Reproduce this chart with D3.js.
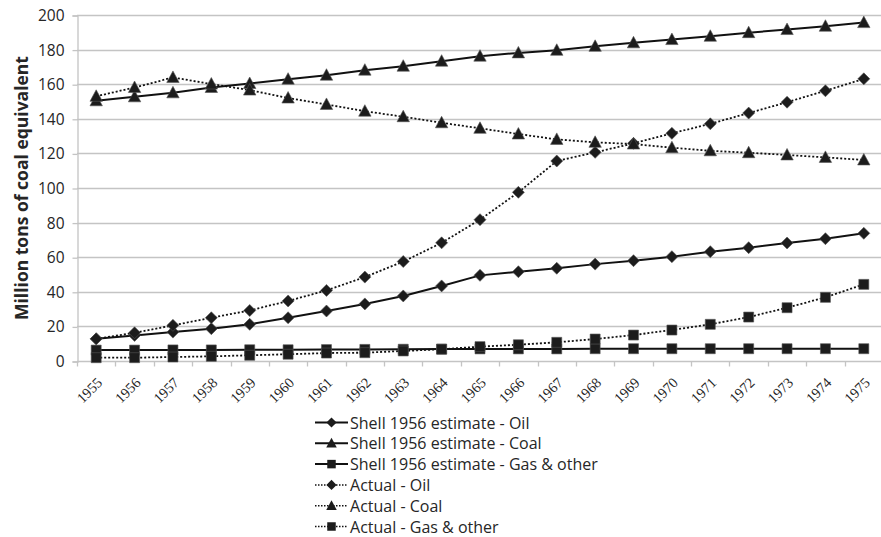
<!DOCTYPE html>
<html>
<head>
<meta charset="utf-8">
<script src="https://cdn.jsdelivr.net/npm/d3@7"></script>
<style>
  html, body { margin: 0; padding: 0; background: #fff; }
  svg { display: block; }
</style>
</head>
<body>
<svg id="chart" width="881" height="537"></svg>
<script>
// ---- Data ----
const years = ["1955","1956","1957","1958","1959","1960","1961","1962","1963","1964","1965",
               "1966","1967","1968","1969","1970","1971","1972","1973","1974","1975"];
const yTicks = [0, 20, 40, 60, 80, 100, 120, 140, 160, 180, 200];

const shellOil  = [12.8, 14.8, 16.7, 18.7, 21.2, 25.0, 28.9, 33.0, 37.6, 43.4, 49.5,
                   51.6, 53.6, 56.0, 58.0, 60.3, 63.2, 65.5, 68.2, 70.7, 73.8];
const shellCoal = [150.4, 152.7, 155.0, 158.1, 160.4, 162.9, 165.2, 168.1, 170.4, 173.3, 176.2,
                   178.1, 179.6, 181.9, 183.9, 185.8, 187.7, 189.8, 191.6, 193.5, 195.6];
const shellGas  = [6.3, 6.3, 6.4, 6.4, 6.5, 6.5, 6.6, 6.7, 6.8, 6.9, 7.0,
                   7.0, 7.0, 7.1, 7.1, 7.1, 7.1, 7.1, 7.1, 7.1, 7.1];
const actualOil  = [12.8, 16.3, 20.6, 25.0, 29.2, 34.7, 40.8, 48.5, 57.5, 68.3, 81.7,
                    97.5, 115.6, 120.6, 125.8, 131.6, 137.1, 143.3, 149.6, 156.2, 163.1];
const actualCoal = [153.0, 158.1, 163.9, 160.1, 156.6, 152.0, 148.3, 144.4, 141.2, 137.7, 134.5,
                    131.2, 128.1, 126.4, 125.4, 123.3, 121.5, 120.4, 119.1, 117.7, 116.2];
const actualGas  = [1.9, 1.9, 2.3, 2.7, 3.3, 3.9, 4.6, 4.8, 5.8, 6.8, 8.3,
                    9.4, 10.8, 12.7, 15.0, 17.9, 21.2, 25.4, 30.8, 36.8, 44.3];

const seriesNames = ["Shell 1956 estimate - Oil", "Shell 1956 estimate - Coal", "Shell 1956 estimate - Gas & other",
                     "Actual - Oil", "Actual - Coal", "Actual - Gas & other"];
const seriesValues = [shellOil, shellCoal, shellGas, actualOil, actualCoal, actualGas];
const seriesMarkers = ["diamond", "triangle", "square", "diamond", "triangle", "square"];
const seriesDotted = [false, false, false, true, true, true];
const yTitle = "Million tons of coal equivalent";

// ---- Layout ----
const svg = d3.select("#chart");
const mLeft = 77, mRight = 883, mTop = 15, mBottom = 361;

const x = d3.scaleBand().domain(years).range([mLeft, mRight]).padding(0);
const y = d3.scaleLinear().domain([0, 200]).range([mBottom, mTop]);
const cx = d => x(d) + x.bandwidth() / 2;

const gridColor = "#c4c4c4";
const textColor = "#262626";
const markColor = "#1c1c1c";

// gridlines
svg.append("g")
  .selectAll("line").data(yTicks.filter(t => t > 0)).join("line")
  .attr("x1", mLeft).attr("x2", 881)
  .attr("y1", d => Math.round(y(d)) + 0.5).attr("y2", d => Math.round(y(d)) + 0.5)
  .attr("stroke", gridColor).attr("stroke-width", 1.3);

// y axis
const yAxis = svg.append("g").attr("transform", `translate(${mLeft + 0.5},0.5)`)
  .call(d3.axisLeft(y).tickValues(yTicks).tickSize(5).tickPadding(8));
yAxis.select(".domain").attr("stroke", gridColor).attr("stroke-width", 1.3);
yAxis.selectAll(".tick line").attr("stroke", gridColor).attr("stroke-width", 1.3);
yAxis.selectAll(".tick text")
  .attr("font-family", "'Open Sans', sans-serif").attr("font-size", 15.5).attr("fill", textColor);

// x axis: ticks between categories
const xAxisG = svg.append("g").attr("transform", `translate(0,${mBottom + 0.5})`);
xAxisG.append("line").attr("x1", mLeft).attr("x2", 881).attr("y1", 0).attr("y2", 0)
  .attr("stroke", gridColor).attr("stroke-width", 1.3);
xAxisG.selectAll("line.tk").data(years).join("line").attr("class", "tk")
  .attr("x1", d => Math.round(x(d)) + 0.5).attr("x2", d => Math.round(x(d)) + 0.5)
  .attr("y1", 0).attr("y2", 5)
  .attr("stroke", gridColor).attr("stroke-width", 1.3);
xAxisG.selectAll("text").data(years).join("text")
  .attr("transform", d => `translate(${cx(d) + 7},${22}) rotate(-45)`)
  .attr("text-anchor", "end")
  .attr("font-family", "'Liberation Serif', serif").attr("font-size", 14.5)
  .attr("fill", textColor)
  .text(d => d);

// y title (fitted to the reference's length)
const yt = svg.append("text")
  .attr("transform", `translate(21,${(mTop + mBottom) / 2}) rotate(-90)`)
  .attr("text-anchor", "middle").attr("dominant-baseline", "central")
  .attr("font-family", "'Open Sans', sans-serif").attr("font-weight", "bold")
  .attr("font-size", 15).attr("fill", textColor)
  .text(yTitle);
{
  const len = yt.node().getComputedTextLength();
  if (len > 0) yt.attr("font-size", 15 * 264 / len);
}

// marker shapes
function markerPath(type) {
  if (type === "diamond") return "M0,-6L6,0L0,6L-6,0Z";
  if (type === "triangle") return "M0,-6.5L6.2,5L-6.2,5Z";
  return "M-5,-5L5,-5L5,5L-5,5Z";
}

const line = d3.line().x((d, i) => cx(years[i])).y(d => y(d));

// lines
const plot = svg.append("g");
seriesValues.forEach((vals, si) => {
  plot.append("path").datum(vals)
    .attr("d", line)
    .attr("fill", "none")
    .attr("stroke", "#111")
    .attr("stroke-width", seriesDotted[si] ? 1.8 : 2)
    .attr("stroke-dasharray", seriesDotted[si] ? "2,2" : null);
});
// markers
seriesValues.forEach((vals, si) => {
  plot.append("g").selectAll("path").data(vals).join("path")
    .attr("transform", (d, i) => `translate(${cx(years[i])},${y(d)})`)
    .attr("d", markerPath(seriesMarkers[si]))
    .attr("fill", markColor)
    .attr("stroke", "#555").attr("stroke-width", 0.6);
});

// legend
const legY0 = 422.5, legStep = 20.8;
const leg = svg.append("g");
const legTexts = [];
seriesNames.forEach((name, si) => {
  const gy = legY0 + si * legStep;
  leg.append("line").attr("x1", 315).attr("x2", 348).attr("y1", gy).attr("y2", gy)
    .attr("stroke", "#111").attr("stroke-width", seriesDotted[si] ? 1.5 : 2)
    .attr("stroke-dasharray", seriesDotted[si] ? "1.5,1.5" : null);
  leg.append("path").attr("transform", `translate(331.5,${gy}) scale(0.85)`)
    .attr("d", markerPath(seriesMarkers[si])).attr("fill", markColor);
  legTexts.push(leg.append("text").attr("x", 350).attr("y", gy)
    .attr("dominant-baseline", "central")
    .attr("font-family", "'Open Sans', sans-serif").attr("font-size", 15)
    .attr("fill", textColor).text(name));
});
{
  const len = legTexts[2].node().getComputedTextLength();
  if (len > 0) legTexts.forEach(t => t.attr("font-size", 15 * 248 / len));
}
</script>
</body>
</html>
